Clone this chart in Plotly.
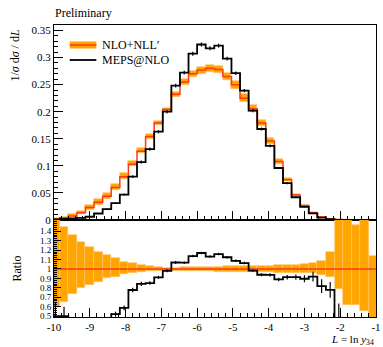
import plotly.graph_objects as go

# ---- data ----
bin_edges = [-10.08, -9.84, -9.60, -9.36, -9.12, -8.88, -8.64, -8.40, -8.16, -7.92,
             -7.68, -7.44, -7.20, -6.96, -6.72, -6.48, -6.24, -6.00, -5.76, -5.52,
             -5.28, -5.04, -4.80, -4.56, -4.32, -4.08, -3.84, -3.60, -3.36, -3.12,
             -2.88, -2.64, -2.40, -2.16, -1.92, -1.68, -1.44, -1.20, -0.96]

nlo_nll = [0.002, 0.004, 0.0075, 0.0135, 0.023, 0.033, 0.044, 0.06, 0.08, 0.103,
           0.127, 0.154, 0.179, 0.204, 0.232, 0.255, 0.27, 0.277, 0.28, 0.278,
           0.265, 0.2495, 0.225, 0.2055, 0.179, 0.146, 0.108, 0.0745, 0.046, 0.027,
           0.0135, 0.0055, 0.0018, 0.0006, 0.0002, 0.0001, 0.00005, 0.00003]

# relative upper / lower uncertainty of NLO+NLL'
nlo_up_rel = [0.55, 0.448, 0.36, 0.29, 0.23, 0.184, 0.148, 0.113, 0.078, 0.06,
              0.042, 0.032, 0.022, 0.015, 0.015, 0.018, 0.02, 0.022, 0.024, 0.025,
              0.027, 0.028, 0.03, 0.032, 0.034, 0.036, 0.038, 0.04, 0.043, 0.048,
              0.06, 0.085, 0.18, 0.6, 0.55, 0.47, 0.6, 0.14]
nlo_dn_rel = [0.40, 0.346, 0.265, 0.205, 0.17, 0.134, 0.10, 0.08, 0.056, 0.04,
              0.03, 0.025, 0.02, 0.018, 0.02, 0.02, 0.022, 0.025, 0.025, 0.027,
              0.028, 0.03, 0.032, 0.033, 0.035, 0.036, 0.038, 0.04, 0.042, 0.045,
              0.048, 0.065, 0.08, 0.21, 0.385, 0.385, 0.45, 0.6]

meps = [0.001, 0.002, 0.003, 0.004, 0.006, 0.012, 0.02, 0.0312, 0.047, 0.080,
        0.107, 0.131, 0.163, 0.2, 0.248, 0.272, 0.307, 0.324, 0.317, 0.322,
        0.298, 0.271, 0.239, 0.202, 0.168, 0.137, 0.096, 0.068, 0.042, 0.0242,
        0.0124, 0.0045, 0.0014, 0.00028, 0, 0, 0, 0]
meps_err = [0.0003, 0.0004, 0.0005, 0.0006, 0.0008, 0.001, 0.0013, 0.0016, 0.002, 0.0025,
            0.0028, 0.003, 0.003, 0.0032, 0.0035, 0.0035, 0.0036, 0.0036, 0.0036, 0.0036,
            0.0035, 0.0033, 0.003, 0.003, 0.0028, 0.0025, 0.002, 0.0018, 0.0013, 0.001,
            0.0007, 0.0004, 0.00015, 0.0001, 0, 0, 0, 0]

x_ticks = [-10, -9, -8, -7, -6, -5, -4, -3, -2, -1]
x_labels = ["-10", "-9", "-8", "-7", "-6", "-5", "-4", "-3", "-2", "-1"]
y_ticks = [0, 0.05, 0.1, 0.15, 0.2, 0.25, 0.3, 0.35]
y_labels = ["0", "0.05", "0.1", "0.15", "0.2", "0.25", "0.3", "0.35"]
ratio_ticks = [0.5, 0.6, 0.7, 0.8, 0.9, 1.0, 1.1, 1.2, 1.3, 1.4]
ratio_labels = ["0.5", "0.6", "0.7", "0.8", "0.9", "1", "1.1", "1.2", "1.3", "1.4"]

# ---- derived ----
n = len(nlo_nll)
centers = [(bin_edges[i] + bin_edges[i + 1]) / 2 for i in range(n)]
widths = [bin_edges[i + 1] - bin_edges[i] for i in range(n)]
band_lo = [nlo_nll[i] * (1 - nlo_dn_rel[i]) for i in range(n)]
band_h = [nlo_nll[i] * (nlo_up_rel[i] + nlo_dn_rel[i]) for i in range(n)]
r_lo = [1 - d for d in nlo_dn_rel]
r_h = [nlo_up_rel[i] + nlo_dn_rel[i] for i in range(n)]
ratio_nlo = [nlo_nll[i] / nlo_nll[i] for i in range(n)]
ratio_meps = [meps[i] / nlo_nll[i] for i in range(n)]
ratio_err = [meps_err[i] / nlo_nll[i] for i in range(n)]

def step(vals):
    return list(vals) + [vals[-1]]

ORANGE = "#FFA500"
ORANGE_EDGE = "#FFC36A"
RED = "#FF3A12"
FONT = "Liberation Serif"

fig = go.Figure()

# main panel
fig.add_trace(go.Bar(x=centers, y=band_h, base=band_lo, width=widths,
                     marker=dict(color=ORANGE, line=dict(color=ORANGE_EDGE, width=0.6)),
                     xaxis="x", yaxis="y", showlegend=False, hoverinfo="skip"))
fig.add_trace(go.Scatter(x=bin_edges, y=step(nlo_nll), mode="lines", line_shape="hv",
                         line=dict(color=RED, width=1.5), xaxis="x", yaxis="y", showlegend=False))
fig.add_trace(go.Scatter(x=bin_edges, y=step(meps), mode="lines", line_shape="hv",
                         line=dict(color="black", width=1.8), xaxis="x", yaxis="y", showlegend=False))
fig.add_trace(go.Scatter(x=centers, y=meps, mode="markers", marker=dict(size=1, color="black", opacity=0),
                         error_y=dict(type="data", array=meps_err, width=0, thickness=1.2, color="black"),
                         xaxis="x", yaxis="y", showlegend=False))

# ratio panel
fig.add_trace(go.Bar(x=centers, y=r_h, base=r_lo, width=widths,
                     marker=dict(color=ORANGE, line=dict(color=ORANGE_EDGE, width=0.6)),
                     xaxis="x2", yaxis="y2", showlegend=False, hoverinfo="skip"))
fig.add_trace(go.Scatter(x=bin_edges, y=step(ratio_nlo), mode="lines", line_shape="hv",
                         line=dict(color=RED, width=1.5), xaxis="x2", yaxis="y2", showlegend=False))
fig.add_trace(go.Scatter(x=bin_edges, y=step(ratio_meps), mode="lines", line_shape="hv",
                         line=dict(color="black", width=1.8), xaxis="x2", yaxis="y2", showlegend=False))
fig.add_trace(go.Scatter(x=centers, y=ratio_meps, mode="markers", marker=dict(size=1, color="black", opacity=0),
                         error_y=dict(type="data", array=ratio_err, width=0, thickness=1.2, color="black"),
                         xaxis="x2", yaxis="y2", showlegend=False))

def ax_common(size):
    return dict(showline=True, linecolor="black", linewidth=1, mirror=True,
                ticks="inside", tickcolor="black", showgrid=False, zeroline=False,
                ticklabeloverflow="allow",
                tickfont=dict(family=FONT, size=size, color="black"))

split = 97 / 292
fig.update_layout(
    width=383, height=347,
    margin=dict(l=54, r=2, t=25, b=30),
    paper_bgcolor="white", plot_bgcolor="white",
    barmode="overlay", bargap=0,
    font=dict(family=FONT, color="black"),
    xaxis=dict(domain=[0, 1], anchor="y", range=[-10, -1], tickvals=x_ticks,
               showticklabels=False, ticklen=9,
               minor=dict(dtick=0.2, tick0=-10, ticks="inside", ticklen=4, tickcolor="black"),
               **ax_common(11)),
    yaxis=dict(domain=[split, 1], anchor="x", range=[0, 0.36], tickvals=y_ticks,
               ticktext=y_labels, ticklen=9,
               minor=dict(dtick=0.01, tick0=0, ticks="inside", ticklen=4, tickcolor="black"),
               **ax_common(11)),
    xaxis2=dict(domain=[0, 1], anchor="y2", range=[-10, -1], tickvals=x_ticks,
                ticktext=x_labels, ticklen=9,
                minor=dict(dtick=0.2, tick0=-10, ticks="inside", ticklen=4, tickcolor="black"),
                **ax_common(11)),
    yaxis2=dict(domain=[0, split], anchor="x2", range=[0.49, 1.52], tickvals=ratio_ticks,
                ticktext=ratio_labels, ticklen=7,
                minor=dict(dtick=0.02, tick0=0.5, ticks="inside", ticklen=3, tickcolor="black"),
                **ax_common(9)),
)

def px_x(px):
    return (px - 54) / 327

def px_y(py):
    return (317 - py) / 292

# manual legend
fig.add_shape(type="rect", xref="paper", yref="paper", x0=px_x(70), x1=px_x(97),
              y0=px_y(48.5), y1=px_y(41.5), fillcolor=ORANGE, line=dict(width=0))
fig.add_shape(type="line", xref="paper", yref="paper", x0=px_x(70), x1=px_x(97),
              y0=px_y(45), y1=px_y(45), line=dict(color=RED, width=1.5))
fig.add_shape(type="line", xref="paper", yref="paper", x0=px_x(70), x1=px_x(97),
              y0=px_y(60), y1=px_y(60), line=dict(color="black", width=1.8))

annots = [
    dict(text="NLO+NLL′", x=px_x(101), y=px_y(45), xanchor="left", size=12, angle=0),
    dict(text="MEPS@NLO", x=px_x(101), y=px_y(60), xanchor="left", size=12, angle=0),
    dict(text="Preliminary", x=px_x(53), y=px_y(13), xanchor="left", size=12, angle=0),
    dict(text="1/<i>σ</i> d<i>σ</i> / d<i>L</i>", x=px_x(14), y=px_y(55), xanchor="center", size=12, angle=-90),
    dict(text="Ratio", x=px_x(16), y=px_y(269), xanchor="center", size=12, angle=-90),
    dict(text="<i>L</i> = ln <i>y</i><sub>34</sub>", x=px_x(381), y=px_y(339.5), xanchor="right", size=11, angle=0),
]
for a in annots:
    fig.add_annotation(text=a["text"], xref="paper", yref="paper", x=a["x"], y=a["y"],
                       xanchor=a["xanchor"], yanchor="middle", showarrow=False,
                       textangle=a["angle"], font=dict(family=FONT, size=a["size"], color="black"))

fig.write_html("out.html", config={"displayModeBar": False},
               post_script="document.body.style.margin='0px';document.body.style.overflow='hidden';")
